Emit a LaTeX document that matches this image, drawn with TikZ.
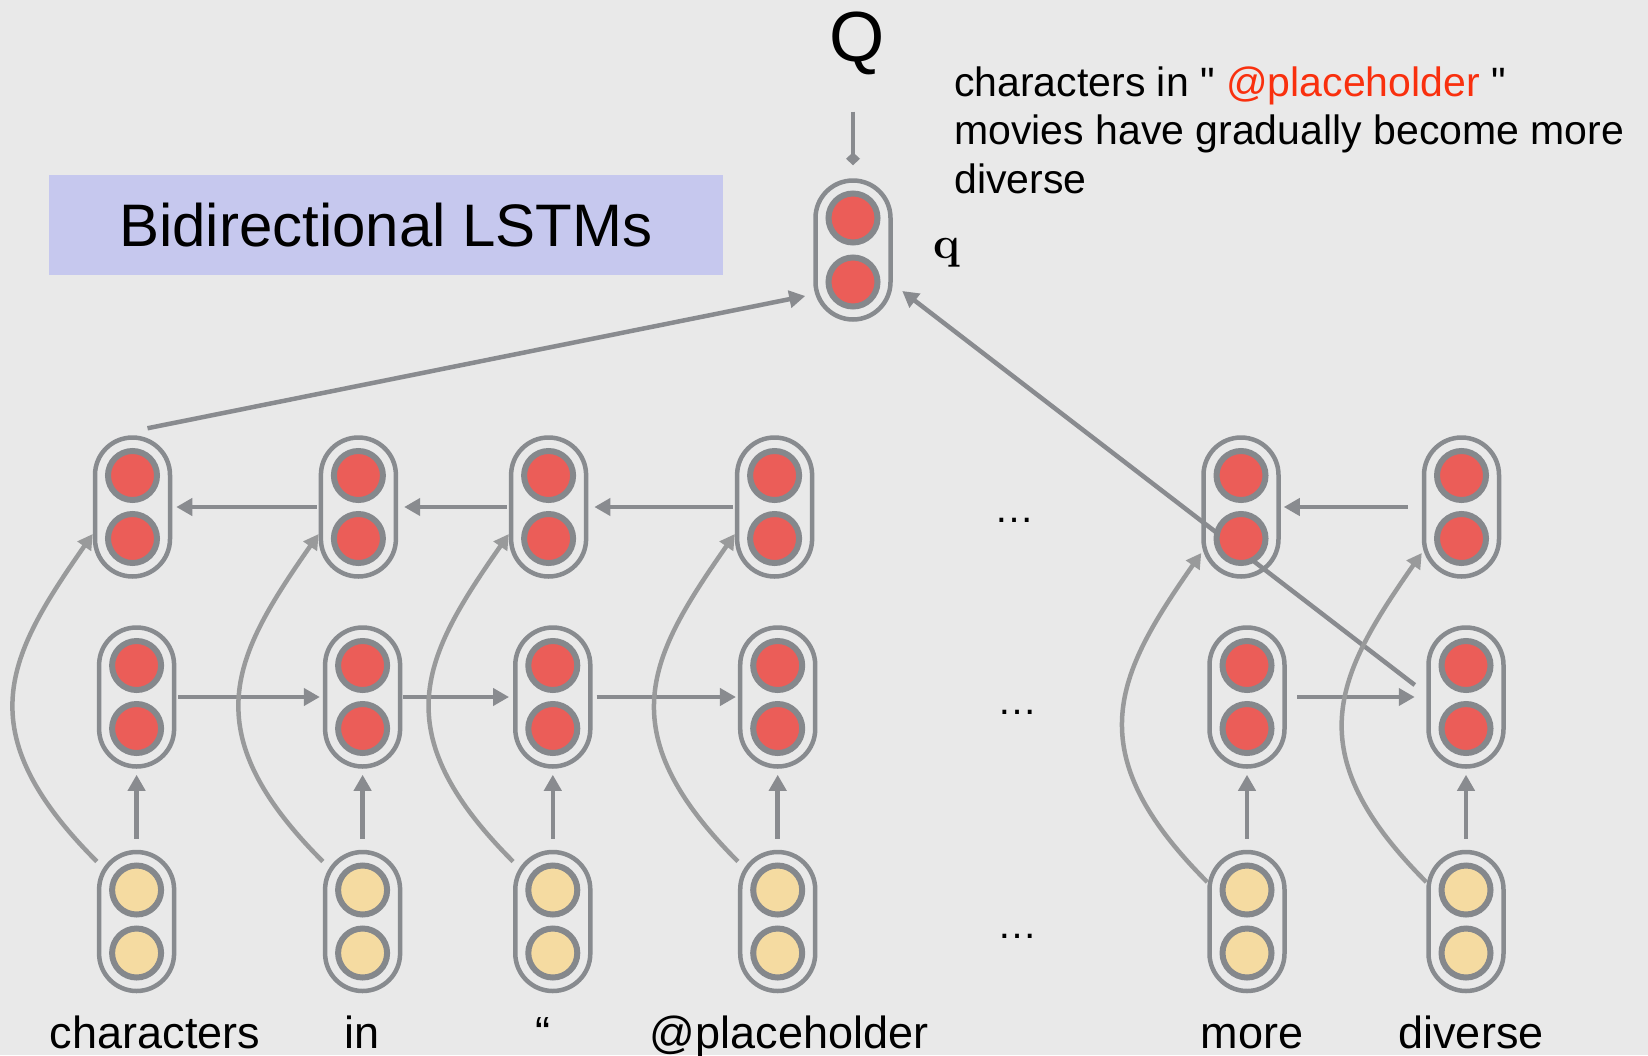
\documentclass[tikz,border=0pt]{standalone}
\usepackage{fontspec}
\setsansfont{Liberation Sans}
\usetikzlibrary{arrows.meta,calc}
\newcommand\strq{\XeTeXglyph\XeTeXcharglyph"22\relax}
\definecolor{bgc}{HTML}{E9E9E9}
\definecolor{capc}{HTML}{888B8F}
\definecolor{circc}{HTML}{85888C}
\definecolor{redf}{HTML}{EB5D58}
\definecolor{yelf}{HTML}{F5DBA1}
\definecolor{arrc}{HTML}{898B8F}
\definecolor{curc}{HTML}{999A9B}
\definecolor{lav}{HTML}{C6C8EE}
\definecolor{phred}{HTML}{F9300E}
\pgfdeclarelayer{bgl}
\pgfsetlayers{bgl,main}
\tikzset{
  capsule/.style={rectangle, draw=capc, line width=4.5pt, rounded corners=37.5pt,
    minimum width=75pt, minimum height=139pt, inner sep=0pt},
  redc/.style={circle, draw=circc, line width=6pt, fill=redf, minimum size=49pt, inner sep=0pt},
  yelc/.style={circle, draw=circc, line width=6pt, fill=yelf, minimum size=49pt, inner sep=0pt},
  harrow/.style={draw=arrc, line width=4.5pt, -{Triangle[length=16pt,width=17pt]}},
  curvearrow/.style={draw=curc, line width=4.5pt, -{Triangle[length=15pt,width=16pt]}},
  qin/.style={draw=arrc, line width=4.5pt, -{Diamond[length=13pt,width=14pt]}},
  wordlbl/.style={font=\sffamily\fontsize{45}{52}\selectfont, anchor=base, inner sep=0pt},
  dotslbl/.style={font=\sffamily\fontsize{40}{46}\selectfont, anchor=base, inner sep=0pt},
}
\begin{document}
\begin{tikzpicture}[x=1pt,y=-1pt]
\useasboundingbox (0,0) rectangle (1648,1055);
\begin{pgfonlayer}{bgl}
  \fill[bgc] (0,0) rectangle (1648,1055);
\end{pgfonlayer}

% title box
\node[fill=lav, minimum width=674pt, minimum height=100.5pt, inner sep=0pt,
  font=\sffamily\fontsize{60}{70}\selectfont] (title) at (386,224.75) {Bidirectional LSTMs};

% Q and annotation
\node[font=\sffamily\fontsize{71}{80}\selectfont, anchor=base, inner sep=0pt] (Qlbl) at (857,61) {Q};
\node[font=\sffamily\fontsize{41}{48.5}\selectfont, anchor=base west, align=left, inner sep=0pt] (ann) at (954,193.3)
  {characters in \strq{} \textcolor{phred}{@placeholder} \strq\\movies have gradually become more\\diverse};

% q capsule
\node[capsule] (qv) at (853,250) {};
\node[redc] (qva) at (853,218) {};
\node[redc] (qvb) at (853,282) {};
\node[font=\rmfamily\bfseries\fontsize{45}{50}\selectfont, anchor=base, inner sep=0pt] (qlab) at (947,258) {q};

% columns
\foreach \i/\xt/\xm in {1/132.5/136.6, 2/358.4/362.6, 3/548.6/552.8, 4/774.6/777.7, 5/1241/1247, 6/1461.5/1466}{
  \node[capsule] (t\i) at (\xt,507) {};
  \node[redc] (t\i a) at (\xt,475.5) {};
  \node[redc] (t\i b) at (\xt,538.5) {};
  \node[capsule] (m\i) at (\xm,697) {};
  \node[redc] (m\i a) at (\xm,665.5) {};
  \node[redc] (m\i b) at (\xm,728.5) {};
  \node[capsule] (b\i) at (\xm,921.5) {};
  \node[yelc] (b\i a) at (\xm,890) {};
  \node[yelc] (b\i b) at (\xm,953) {};
  \draw[harrow, shorten <=11pt, shorten >=6pt] (b\i.north) -- (m\i.south);
}

% words
\node[wordlbl] (w1) at (155,1048) {characters};
\node[wordlbl] (w2) at (361.6,1048) {in};
\node[wordlbl] (w3) at (542.6,1048) {“};
\node[wordlbl] (w4) at (789,1048) {@placeholder};
\node[wordlbl] (w5) at (1252,1048) {more};
\node[wordlbl] (w6) at (1471,1048) {diverse};

% dots
\node[dotslbl] (d1) at (1014,522) {…};
\node[dotslbl] (d2) at (1017,714) {…};
\node[dotslbl] (d3) at (1017,938) {…};

% Q -> q
\draw[qin, shorten <=37pt, shorten >=13pt] (Qlbl.south -| qv.north) -- (qv.north);

% horizontal arrows
\draw[harrow, shorten <=2pt, shorten >=4pt] (t2.west) -- (t1.east);
\draw[harrow, shorten <=2pt, shorten >=6pt] (t3.west) -- (t2.east);
\draw[harrow, shorten <=2pt, shorten >=6pt] (t4.west) -- (t3.east);
\draw[harrow, shorten <=14pt, shorten >=3pt] (t6.west) -- (t5.east);
\draw[harrow, shorten <=2pt, shorten >=3pt] (m1.east) -- (m2.west);
\draw[harrow, shorten <=1pt, shorten >=4pt] (m2.east) -- (m3.west);
\draw[harrow, shorten <=4pt, shorten >=2pt] (m3.east) -- (m4.west);
\draw[harrow, shorten <=10.5pt, shorten >=11.5pt] (m5.east) -- (m6.west);

% curved arrows
\foreach \i in {1,2,3,4}{
  \draw[curvearrow] ([yshift=60pt]b\i.west) .. controls +(-131,-131) and +(-85,122) .. ([yshift=-27pt]t\i.west);
}
\foreach \i in {5,6}{
  \draw[curvearrow] ([yshift=39.5pt]b\i.west) .. controls +(-131,-131) and +(-85,122) .. ([yshift=-46pt]t\i.west);
}

% long lines into q
\begin{pgfonlayer}{bgl}
  \draw[harrow] ($(t1.north)+(15,-7)$) -- ($(qv.west)+(-8,46)$);
  \draw[harrow] ($(m6.west)+(-11.5,-12)$) -- ($(qv.east)+(9.5,41)$);
\end{pgfonlayer}
\end{tikzpicture}
\end{document}
